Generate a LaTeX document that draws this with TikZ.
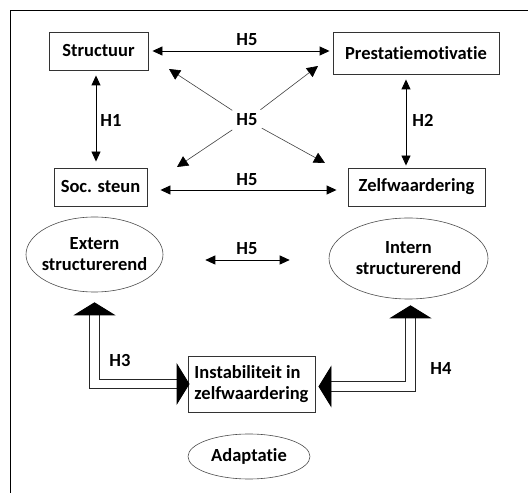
\documentclass[tikz,border=0pt]{standalone}
\usepackage{fontspec}
\setmainfont{Carlito}[Ligatures={NoCommon}, RawFeature={-liga;-clig}]
\usetikzlibrary{arrows.meta, shapes.geometric, positioning}

\begin{document}
\begin{tikzpicture}[
  x=1pt, y=-1pt,
  font=\fontsize{18.5}{21}\selectfont\bfseries,
  box/.style={draw=black!80, line width=0.9pt, inner sep=0pt, align=center},
  oval/.style={ellipse, draw=black!70, line width=0.6pt, inner sep=0pt, align=center},
  lbl/.style={inner sep=1pt},
  arr/.style={{Triangle[length=10pt,width=9pt]}-{Triangle[length=10pt,width=9pt]}, line width=0.9pt},
  diag/.style={-{Triangle[length=11pt,width=11pt,color=black]}, draw=black!75, line width=0.6pt},
  dbl/.style={{Triangle[length=13pt,width=42pt,color=black]}-{Triangle[length=13pt,width=42pt,color=black]},
              draw=black!85, double, double distance=8.5pt, line width=0.9pt}
]
  \useasboundingbox (0,0) rectangle (528,494);
  % frame
  \draw[line width=0.9pt] (10,493) -- (10,10) -- (528,10);

  \node[box, minimum width=99pt, minimum height=38pt]  (struc)  at (98.5,51)  {Structuur};
  \node[box, minimum width=166pt, minimum height=42pt] (prest)  at (416,53)   {Prestatiemotivatie};
  \node[box, minimum width=93pt, minimum height=38pt]  (soc)    at (100.5,187) {Soc. steun};
  \node[box, minimum width=137pt, minimum height=38pt] (zelf)   at (416.5,187) {Zelfwaardering};
  \node[oval, inner xsep=-12pt, minimum width=137pt, minimum height=75pt] (extern) at (94.5,254.5) {Extern\\structurerend};
  \node[oval, inner xsep=-4pt, minimum width=159pt, minimum height=81pt]  (intern) at (408.5,258.5) {Intern\\structurerend};
  \node[box, align=left, minimum width=127pt, minimum height=56pt] (instab) at (251.5,384) {Instabiliteit in\\zelfwaardering};
  \node[oval, minimum width=122pt, minimum height=45pt] (adapt) at (249,456.5) {Adaptatie};

  \node[lbl] (h5top) at (247,40)  {H5};
  \node[lbl, inner sep=4pt] (h5mid) at (247,120) {H5};
  \node[lbl] (h5bot) at (247,180) {H5};
  \node[lbl] (h5ell) at (247,249) {H5};
  \node[lbl] (h1) at (111,120) {H1};
  \node[lbl] (h2) at (423,120) {H2};
  \node[lbl] (h3) at (120,360) {H3};
  \node[lbl] (h4) at (441,368) {H4};

  \coordinate (nw) at (169,69);
  \coordinate (ne) at (318,66);
  \coordinate (sw) at (177,167);
  \coordinate (se) at (325,163);

  \draw[arr, shorten <=4pt, shorten >=3pt] (struc.east) -- (struc.east -| prest.west);
  \draw[arr, shorten <=13pt, shorten >=11pt] ([yshift=-3pt]soc.east) -- ([yshift=-3pt]soc.east -| zelf.west);
  \draw[arr, shorten <=5pt, shorten >=6pt] ([xshift=-2.5pt]struc.south) -- ([xshift=-2.5pt]struc.south |- soc.north);
  \draw[arr, shorten <=5pt, shorten >=2pt] ([xshift=-10pt]prest.south) -- ([xshift=-10pt]prest.south |- zelf.north);
  \draw[arr, shorten <=42pt, shorten >=39pt] ([yshift=-5.5pt]extern.east) -- ([yshift=-5.5pt]extern.east -| intern.west);

  \draw[diag] (h5mid) -- (nw);
  \draw[diag] (h5mid) -- (ne);
  \draw[diag] (h5mid) -- (sw);
  \draw[diag] (h5mid) -- (se);

  \draw[dbl, shorten <=-2pt, shorten >=10pt] (instab.west) -| (extern.south);
  \draw[dbl, shorten <=3pt, shorten >=6pt] ([yshift=-2.5pt]instab.east) -| ([xshift=2pt]intern.south);
\end{tikzpicture}
\end{document}
